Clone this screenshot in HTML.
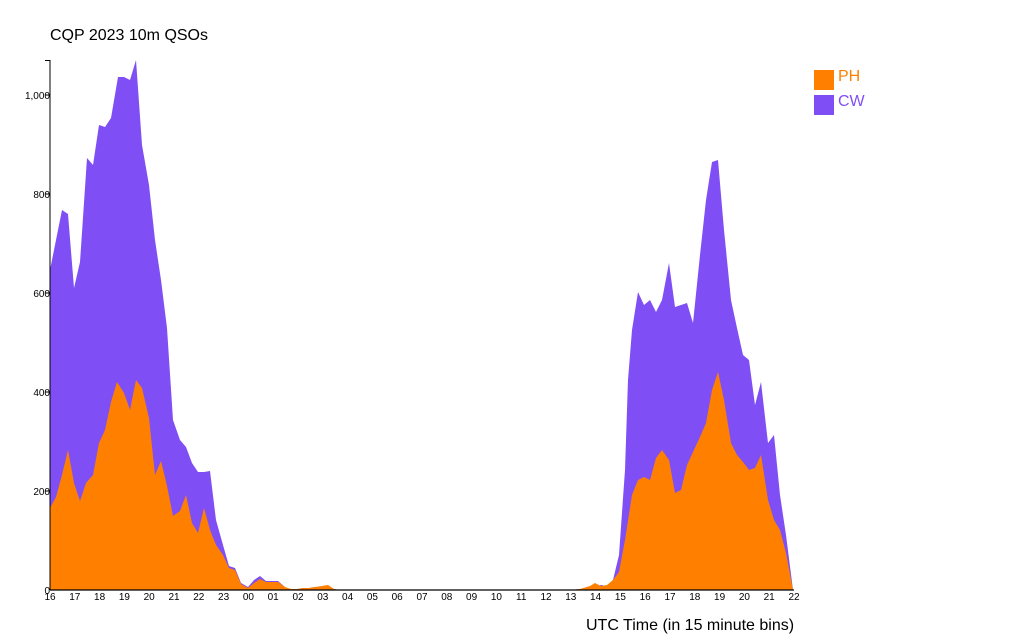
<!DOCTYPE html>
<html><head><meta charset="utf-8"><style>
html,body{margin:0;padding:0;background:#fff;}
svg{display:block;font-family:"Liberation Sans",sans-serif;}
</style></head><body>
<svg width="1024" height="640" viewBox="0 0 1024 640" xmlns="http://www.w3.org/2000/svg">
<text x="50" y="40" font-size="16" fill="#000">CQP 2023 10m QSOs</text>
<polygon fill="#7f4ff5" points="50,590 50,270 62,210 68,214 74,288 80,262 87,158 93,165 99,125 105,127 111,118 118,77 124,77 130,80 136,60 142,145 149,185 155,240 161,280 167,328 173,420 180,440 186,447 192,463 198,472 204,472 210,471 216,520 223,545 229,566 235,568 241,583 248,587 254,580 260,576 266,581 272,581 278,581 285,587 291,590 297,589 303,588 309,588 315,587 322,587 328,586 334,589 340,590"/>
<polygon fill="#ff8000" points="50,590 50,508 56,497 62,475 68,450 74,483 80,501 86,483 93,475 99,443 105,430 111,402 117,382 124,393 130,410 136,380 142,388 149,418 155,475 161,461 167,486 173,516 180,511 186,495 192,523 198,533 204,508 210,530 216,545 223,555 229,568 235,570 241,584 248,588 254,583 260,579 266,582 272,582 278,582 285,587 291,589 297,589 303,588 309,588 315,587 322,586 328,585 334,589 340,590"/>
<polygon fill="#7f4ff5" points="570,590 580,589 595,587 601,585 607,586 613,580 619,555 625,470 628,380 632,330 638,292 644,305 650,300 656,312 662,300 669,263 675,307 681,305 687,303 693,323 700,255 706,200 712,162 718,160 724,230 731,300 737,328 743,355 749,360 755,405 761,382 768,443 774,435 780,495 786,535 793,590"/>
<polygon fill="#ff8000" points="570,590 580,589 590,586 595,583 601,586 607,585 613,580 619,572 625,540 632,495 638,480 644,477 650,480 656,458 662,450 669,460 675,493 681,490 687,465 693,452 700,437 706,423 712,390 718,372 724,400 731,443 737,455 743,462 749,470 755,468 761,455 768,500 774,520 780,530 786,553 793,590"/>
<line x1="50" y1="60" x2="50" y2="590" stroke="#000" stroke-width="1"/>
<line x1="45" y1="60.5" x2="50" y2="60.5" stroke="#000"/>
<line x1="50" y1="590" x2="794" y2="590" stroke="#000" stroke-width="1.2"/>
<g font-size="10" fill="#000" text-anchor="end">
<text x="50" y="594">0</text><line x1="45" y1="491" x2="50" y2="491" stroke="#000"/><text x="50" y="495">200</text>
<line x1="45" y1="392" x2="50" y2="392" stroke="#000"/><text x="50" y="396">400</text>
<line x1="45" y1="293" x2="50" y2="293" stroke="#000"/><text x="50" y="297">600</text>
<line x1="45" y1="194" x2="50" y2="194" stroke="#000"/><text x="50" y="198">800</text>
<line x1="45" y1="95" x2="50" y2="95" stroke="#000"/><text x="50" y="99">1,000</text>
</g>
<g font-size="10" fill="#000" text-anchor="middle">
<text x="50" y="600">16</text><text x="74.8" y="600">17</text><text x="99.6" y="600">18</text><text x="124.4" y="600">19</text><text x="149.2" y="600">20</text><text x="174" y="600">21</text><text x="198.8" y="600">22</text><text x="223.6" y="600">23</text><text x="248.4" y="600">00</text><text x="273.2" y="600">01</text><text x="298" y="600">02</text><text x="322.8" y="600">03</text><text x="347.6" y="600">04</text><text x="372.4" y="600">05</text><text x="397.2" y="600">06</text><text x="422" y="600">07</text><text x="446.8" y="600">08</text><text x="471.6" y="600">09</text><text x="496.4" y="600">10</text><text x="521.2" y="600">11</text><text x="546" y="600">12</text><text x="570.8" y="600">13</text><text x="595.6" y="600">14</text><text x="620.4" y="600">15</text><text x="645.2" y="600">16</text><text x="670" y="600">17</text><text x="694.8" y="600">18</text><text x="719.6" y="600">19</text><text x="744.4" y="600">20</text><text x="769.2" y="600">21</text><text x="794" y="600">22</text>
</g>
<text x="586" y="630" font-size="16" fill="#000">UTC Time (in 15 minute bins)</text>
<rect x="814" y="70" width="20" height="20" fill="#ff8000"/>
<text x="838" y="81" font-size="16" fill="#ff8000">PH</text>
<rect x="814" y="95" width="20" height="20" fill="#7f4ff5"/>
<text x="838" y="106" font-size="16" fill="#7f4ff5">CW</text>
</svg>
</body></html>
